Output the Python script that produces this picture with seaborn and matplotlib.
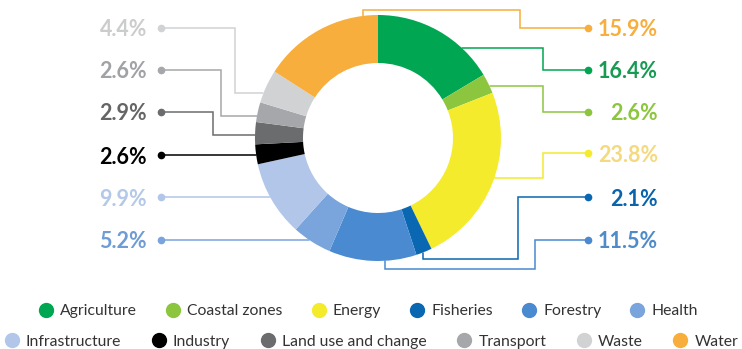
import numpy as np
import matplotlib
matplotlib.use("Agg")
from matplotlib import pyplot as plt
from matplotlib.lines import Line2D
import seaborn as sns


sectors = ["Agriculture", "Coastal zones", "Energy", "Fisheries", "Forestry", "Health",
           "Infrastructure", "Industry", "Land use and change", "Transport", "Waste", "Water"]
shares = [16.4, 2.6, 23.8, 2.1, 11.5, 5.2, 9.9, 2.6, 2.9, 2.6, 4.4, 15.9]
slice_colors = ["#00a651", "#8cc63f", "#f4eb2c", "#0a67b1", "#4a8ad0", "#7aa4dc",
                "#b1c6e8", "#000000", "#6b6c6e", "#a5a7aa", "#d1d2d4", "#f8ae3d"]
label_colors = ["#179a52", "#8cc63f", "#f5d97e", "#0a63ad", "#4f8bc9", "#6f9cd4",
                "#b4c8e8", "#000000", "#646567", "#a0a2a5", "#cbcccd", "#f8ae3d"]

W, H = 742, 349
CX, CY, R, RING = 378, H - 138, 123, 48
DOT_X = {"right": 588, "left": 161}
TEXT_X = {"right": 658, "left": 147}

# side, label row (px from top), position inside the slice, knee x, bend y (px from top)
leaders = {
    "Water": ("right", 28, 0.88, 520, 10),
    "Agriculture": ("right", 70, 0.73, 543, None),
    "Coastal zones": ("right", 112, 0.65, 543, None),
    "Energy": ("right", 153, 0.47, 543, None),
    "Fisheries": ("right", 197, 0.6, 518, 259),
    "Forestry": ("right", 240, 0.36, 535, 269),
    "Health": ("left", 240, None, None, None),
    "Infrastructure": ("left", 197, None, None, None),
    "Industry": ("left", 155, None, None, None),
    "Land use and change": ("left", 112, 0.41, 213, None),
    "Transport": ("left", 70, 0.28, 221, None),
    "Waste": ("left", 28, 0.28, 235, None),
}


def ring_point(f):
    a = np.radians(90 - 360 * f)
    return CX + R * np.cos(a), CY + R * np.sin(a)


sns.set_theme(style="white")
plt.rcParams["font.family"] = ["Lato", "DejaVu Sans"]

fig = plt.figure(figsize=(W / 100, H / 100), dpi=100)
ax = fig.add_axes([0, 0, 1, 1])
palette = sns.color_palette(slice_colors)
ax.pie(shares, colors=palette, startangle=90, counterclock=False, radius=R,
       center=(CX, CY), wedgeprops=dict(width=RING, edgecolor="none", linewidth=0))
ax.set_xlim(0, W)
ax.set_ylim(0, H)
ax.set_aspect("equal")
ax.axis("off")

total = sum(shares)
starts = np.concatenate([[0], np.cumsum(shares)[:-1]])
for i, name in enumerate(sectors):
    side, row, frac, knee, bend = leaders[name]
    ly = H - row
    dx = DOT_X[side]
    if frac is None:
        ax_ = CX - np.sqrt(R ** 2 - (ly - CY) ** 2)
        pts = [(ax_, ly), (dx, ly)]
    else:
        px, py = ring_point((starts[i] + frac * shares[i]) / total)
        if bend is None:
            pts = [(px, py), (knee, py), (knee, ly), (dx, ly)]
        else:
            by = H - bend
            pts = [(px, py), (px, by), (knee, by), (knee, ly), (dx, ly)]
    xs, ys = zip(*pts)
    ax.plot(xs, ys, color=slice_colors[i], lw=1.1, solid_joinstyle="miter", zorder=3)
    ax.plot([dx], [ly], "o", color=slice_colors[i], ms=4.5, zorder=4)
    ax.text(TEXT_X[side], ly, f"{shares[i]}%", color=label_colors[i], fontsize=15.5,
            fontweight="bold", ha="right", va="center_baseline")

handles = [Line2D([], [], marker="o", ls="", ms=10, color=c) for c in slice_colors]
for k, (yy, xx, gap) in enumerate([(0.108, 0.496, 1.8), (0.021, 0.5, 1.9)]):
    leg = fig.legend(handles[6 * k:6 * k + 6], sectors[6 * k:6 * k + 6], ncol=6, loc="center",
                     bbox_to_anchor=(xx, yy), frameon=False, fontsize=11.3,
                     handletextpad=0.4, columnspacing=gap, handlelength=1.0,
                     borderpad=0, borderaxespad=0, labelcolor="#333333")

fig.savefig("out.png", dpi=100)
